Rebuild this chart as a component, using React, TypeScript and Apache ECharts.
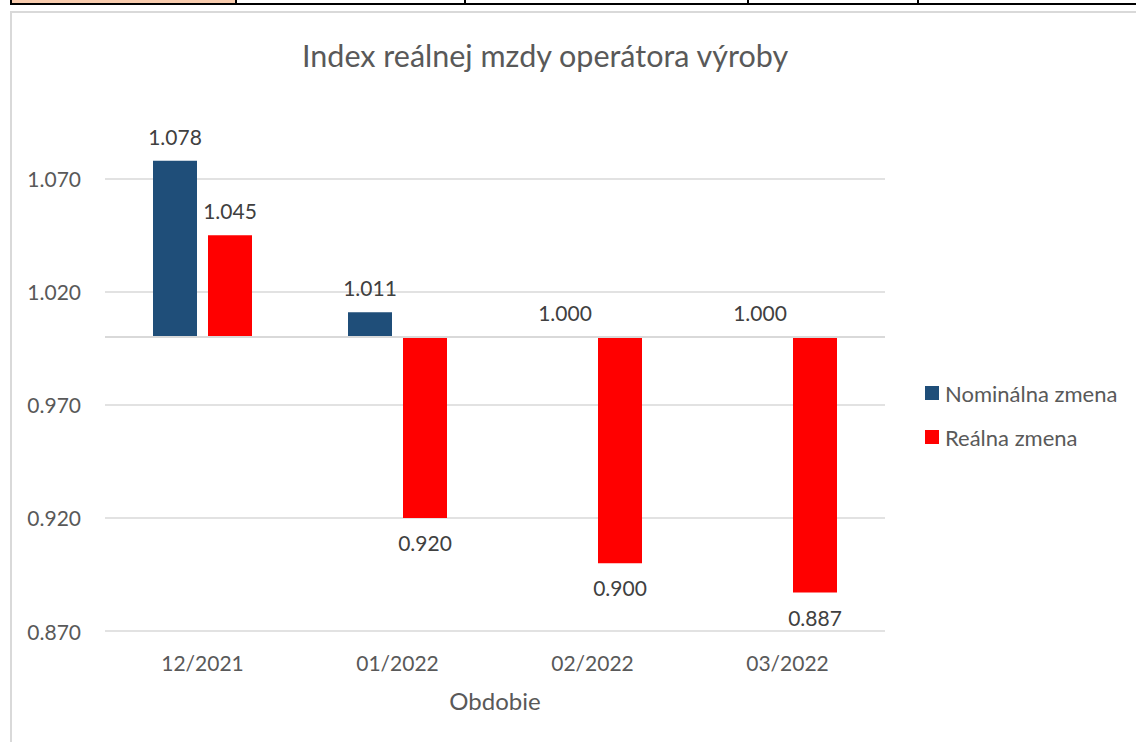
import React, { useEffect, useRef } from "react";
import * as echarts from "echarts";

const categories = ["12/2021", "01/2022", "02/2022", "03/2022"];
const nominal = [1.078, 1.011, 1.0, 1.0];
const real = [1.045, 0.92, 0.9, 0.887];
const baseValue = 1.0;
const axisMin = 0.87;
const axisMax = 1.1;
const axisStep = 0.05;

const FONT = "Lato";
const TEXT = "#595959";
const LABEL = "#404040";

function toItems(values: number[]) {
  return values.map((v) => ({
    value: +(v - baseValue).toFixed(6),
    label: { position: v < baseValue ? "bottom" : "top" },
  }));
}

export default function App() {
  const ref = useRef<HTMLDivElement>(null);
  useEffect(() => {
    if (!ref.current) return;
    const chart = echarts.init(ref.current, undefined, { renderer: "svg" });
    const labelCfg = (arr: number[]) => ({
      show: true,
      distance: 14,
      fontFamily: FONT,
      fontSize: 21,
      color: LABEL,
      formatter: (p: any) => arr[p.dataIndex].toFixed(3),
    });
    chart.setOption({
      animation: false,
      backgroundColor: "#ffffff",
      textStyle: { fontFamily: FONT },
      title: {
        text: "Index reálnej mzdy operátora výroby",
        left: 302,
        top: 39,
        padding: 0,
        textStyle: { fontFamily: FONT, fontSize: 30.5, fontWeight: "normal", color: TEXT },
      },
      legend: {
        orient: "vertical",
        left: 925,
        top: 382,
        padding: 0,
        itemWidth: 14,
        itemHeight: 14,
        itemGap: 22,
        icon: "rect",
        textStyle: { fontFamily: FONT, fontSize: 22, color: TEXT, padding: [0, 0, 0, 1] },
        data: ["Nominálna zmena", "Reálna zmena"],
      },
      grid: { left: 105, right: 251, top: 111, bottom: 111, containLabel: false },
      xAxis: {
        type: "category",
        data: categories,
        axisLine: { show: false },
        axisTick: { show: false },
        axisLabel: { margin: 21, fontFamily: FONT, fontSize: 21, color: TEXT },
        name: "Obdobie",
        nameLocation: "middle",
        nameGap: 57,
        nameTextStyle: { fontFamily: FONT, fontSize: 24, color: TEXT },
      },
      yAxis: {
        type: "value",
        min: +(axisMin - baseValue).toFixed(6),
        max: +(axisMax - baseValue).toFixed(6),
        interval: axisStep,
        axisLine: { show: false },
        axisTick: { show: false },
        axisLabel: {
          margin: 24,
          showMaxLabel: false,
          fontFamily: FONT,
          fontSize: 21,
          color: TEXT,
          formatter: (v: number) => (v + baseValue).toFixed(3),
        },
        splitLine: { show: true, showMaxLine: false, lineStyle: { color: "#D9D9D9", width: 1.5 } },
      },
      series: [
        {
          name: "Nominálna zmena",
          type: "bar",
          barWidth: 44,
          barGap: "25%",
          itemStyle: { color: "#1F4E79" },
          label: labelCfg(nominal),
          data: toItems(nominal),
          markLine: {
            silent: true,
            symbol: "none",
            label: { show: false },
            lineStyle: { color: "#D9D9D9", width: 2, type: "solid" },
            data: [{ yAxis: 0 }],
          },
        },
        {
          name: "Reálna zmena",
          type: "bar",
          barWidth: 44,
          barGap: "25%",
          itemStyle: { color: "#FF0000" },
          label: labelCfg(real),
          data: toItems(real),
        },
      ],
      graphic: [
        { type: "rect", shape: { x: 12, y: 0, width: 223, height: 3 }, style: { fill: "#F8CBAD" }, silent: true },
        { type: "line", shape: { x1: 10, y1: 4, x2: 1136, y2: 4 }, style: { stroke: "#000", lineWidth: 2 }, silent: true },
        { type: "line", shape: { x1: 11, y1: 0, x2: 11, y2: 5 }, style: { stroke: "#000", lineWidth: 2 }, silent: true },
        { type: "line", shape: { x1: 236, y1: 0, x2: 236, y2: 5 }, style: { stroke: "#000", lineWidth: 2 }, silent: true },
        { type: "line", shape: { x1: 465, y1: 0, x2: 465, y2: 5 }, style: { stroke: "#000", lineWidth: 2 }, silent: true },
        { type: "line", shape: { x1: 748, y1: 0, x2: 748, y2: 5 }, style: { stroke: "#000", lineWidth: 2 }, silent: true },
        { type: "line", shape: { x1: 918, y1: 0, x2: 918, y2: 5 }, style: { stroke: "#000", lineWidth: 2 }, silent: true },
        {
          type: "rect",
          shape: { x: 11, y: 12, width: 1160, height: 760 },
          style: { fill: "none", stroke: "#D9D9D9", lineWidth: 2 },
          silent: true,
        },
      ],
    });
    return () => chart.dispose();
  }, []);
  return (
    <div
      ref={ref}
      style={{ position: "fixed", left: 0, top: 0, width: 1136, height: 742, background: "#fff" }}
    />
  );
}
